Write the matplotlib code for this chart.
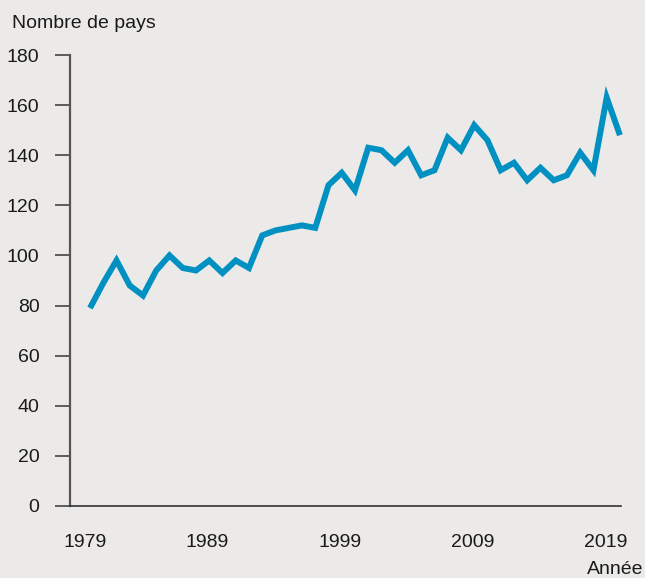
import matplotlib
matplotlib.use("Agg")
import matplotlib.pyplot as plt
from matplotlib import font_manager

years = list(range(1980, 2021))
countries = [79, 89, 98, 88, 84, 94, 100, 95, 94, 98,
             93, 98, 95, 108, 110, 111, 112, 111, 128, 133,
             126, 143, 142, 137, 142, 132, 134, 147, 142, 152,
             146, 134, 137, 130, 135, 130, 132, 141, 134, 163,
             148]
tick_labels = ["1979", "1989", "1999", "2009", "2019"]
tick_pos = [1979.6, 1988.85, 1998.85, 2008.85, 2018.95]
y_ticks = [0, 20, 40, 60, 80, 100, 120, 140, 160, 180]

names = {f.name for f in font_manager.fontManager.ttflist}
fam = "Liberation Sans Narrow" if "Liberation Sans Narrow" in names else "Liberation Sans"
plt.rcParams['font.family'] = [fam, 'DejaVu Sans']
fs = 14

bg = "#ebeae8"
W, H = 645, 578
fig = plt.figure(figsize=(W / 100, H / 100), dpi=100, facecolor=bg)
ax = fig.add_axes([70 / W, (H - 506) / H, (621 - 70) / W, (506 - 55) / H])
ax.set_facecolor(bg)

ax.plot(years, countries, color="#0090c2", lw=4.3, solid_joinstyle="miter",
        solid_capstyle="butt", clip_on=False)

ax.set_ylim(0, 180)
ax.set_xlim(1978.49, 2020.08)
ax.set_yticks(y_ticks)
ax.set_yticklabels([str(v) for v in y_ticks], fontsize=fs, color="#1a1a1a")
ax.tick_params(axis="y", length=11, width=1.2, color="#444444", pad=11)
ax.set_xticks(tick_pos)
ax.set_xticklabels(tick_labels, fontsize=fs, color="#1a1a1a")
ax.tick_params(axis="x", length=0, pad=20)

for s in ("top", "right"):
    ax.spines[s].set_visible(False)
ax.spines["left"].set_color("#555555")
ax.spines["left"].set_linewidth(1.6)
ax.spines["bottom"].set_color("#333333")
ax.spines["bottom"].set_linewidth(1.2)

fig.text(12 / W, 1 - 23 / H, "Nombre de pays", fontsize=fs, color="#1a1a1a",
         ha="left", va="center")
fig.text(643 / W, 1 - 570 / H, "Année", fontsize=fs, color="#1a1a1a",
         ha="right", va="center")

fig.savefig("out.png", dpi=100, facecolor=bg)
